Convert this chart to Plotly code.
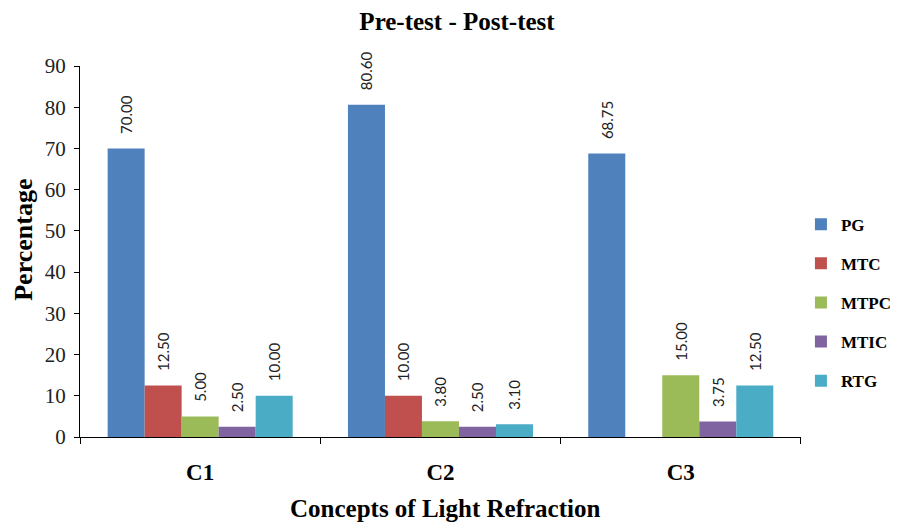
import plotly.graph_objects as go

categories = ["C1", "C2", "C3"]
series_names = ["PG", "MTC", "MTPC", "MTIC", "RTG"]
PG = [70.00, 80.60, 68.75]
MTC = [12.50, 10.00, None]
MTPC = [5.00, 3.80, 15.00]
MTIC = [2.50, 2.50, 3.75]
RTG = [10.00, 3.10, 12.50]
values = [PG, MTC, MTPC, MTIC, RTG]
colors = ["#4F81BD", "#C0504D", "#9BBB59", "#8064A2", "#4BACC6"]

serif = "Liberation Serif"
fig = go.Figure()
for i, (name, vals, col) in enumerate(zip(series_names, values, colors)):
    txt = ["" if v is None else "\u00a0\u00a0\u00a0" + f"{v:.2f}" for v in vals]
    fig.add_trace(go.Bar(
        x=categories, y=vals, name="<b>" + name + "</b>", marker=dict(color=col, line=dict(width=0)),
        text=txt, textposition="outside", textangle=-90, cliponaxis=False, constraintext="none",
        textfont=dict(family="Lato", size=15, color="#222"),
        legendgroup=name,
    ))

fig.update_layout(
    width=898, height=527,
    margin=dict(l=72, r=101, t=58, b=98),
    paper_bgcolor="white", plot_bgcolor="white",
    barmode="group", bargap=0.23, bargroupgap=0,
    title=dict(text="<b>Pre-test - Post-test</b>", x=0.5, xanchor="center", y=0.975, yanchor="middle",
               font=dict(family=serif, size=25, color="black")),
    legend=dict(xref="container", x=0.883, xanchor="left", y=0.362, yanchor="middle",
                font=dict(family=serif, size=17, color="black"),
                tracegroupgap=14, traceorder="grouped", itemwidth=30),
    showlegend=True,
    annotations=[
        dict(text="<b>Percentage</b>", xref="paper", yref="paper", x=-0.078, y=0.531,
             xanchor="center", yanchor="middle", textangle=-90, showarrow=False,
             font=dict(family=serif, size=26, color="black")),
        dict(text="<b>Concepts of Light Refraction</b>", xref="paper", yref="paper", x=0.506, y=-0.194,
             xanchor="center", yanchor="middle", showarrow=False,
             font=dict(family=serif, size=25, color="black")),
    ],
)
fig.update_yaxes(range=[0, 90], dtick=10, showgrid=False, zeroline=False, automargin=False,
                 showline=True, linecolor="black", linewidth=1,
                 ticks="outside", ticklen=5, tickcolor="black",
                 tickfont=dict(family=serif, size=21, color="#222"),
                 ticklabelstandoff=4)
fig.update_xaxes(showgrid=False, showline=True, linecolor="black", linewidth=1, automargin=False,
                 ticks="outside", ticklen=6, tickcolor="black", tickson="boundaries",
                 tickfont=dict(family=serif, size=23, color="black"),
                 ticklabelstandoff=14)
fig.update_xaxes(tickvals=categories, ticktext=["<b>" + c + "</b>" for c in categories])

fig.write_html("out.html")
